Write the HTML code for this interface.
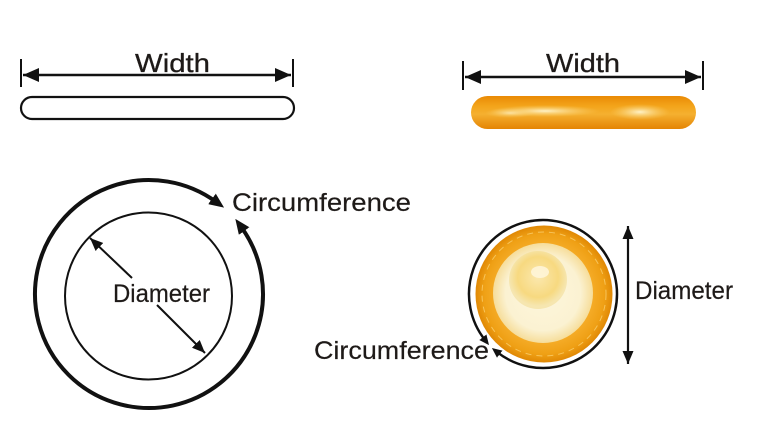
<!DOCTYPE html>
<html><head><meta charset="utf-8"><style>
html,body{margin:0;padding:0;background:#fff;}
svg{display:block;}
text{font-family:"Liberation Sans",sans-serif;fill:#1e1a18;}
</style></head><body>
<svg width="768" height="430" viewBox="0 0 768 430" xmlns="http://www.w3.org/2000/svg">
<defs>
  <marker id="hw" viewBox="0 0 16 14" refX="16" refY="7" markerWidth="16" markerHeight="14" markerUnits="userSpaceOnUse" orient="auto-start-reverse">
    <path d="M0,0 L16,7 L0,14 z" fill="#111"/>
  </marker>
  <marker id="hc" viewBox="0 0 15 13" refX="5" refY="6.5" markerWidth="15" markerHeight="13" markerUnits="userSpaceOnUse" orient="auto-start-reverse">
    <path d="M0,0 L15,6.5 L0,13 z" fill="#111"/>
  </marker>
  <marker id="hd" viewBox="0 0 13 11" refX="13" refY="5.5" markerWidth="13" markerHeight="11" markerUnits="userSpaceOnUse" orient="auto-start-reverse">
    <path d="M0,0 L13,5.5 L0,11 z" fill="#111"/>
  </marker>
  <marker id="hs" viewBox="0 0 10 9" refX="3" refY="4.5" markerWidth="10" markerHeight="9" markerUnits="userSpaceOnUse" orient="auto-start-reverse">
    <path d="M0,0 L10,4.5 L0,9 z" fill="#111"/>
  </marker>
  <linearGradient id="barg" x1="0" y1="0" x2="0" y2="1">
    <stop offset="0" stop-color="#e98a05"/>
    <stop offset="0.3" stop-color="#f3a41a"/>
    <stop offset="0.55" stop-color="#f5b030"/>
    <stop offset="1" stop-color="#e48403"/>
  </linearGradient>
  <radialGradient id="hl" cx="0.5" cy="0.5" r="0.5">
    <stop offset="0" stop-color="#fff6d0" stop-opacity="0.95"/>
    <stop offset="1" stop-color="#fbd470" stop-opacity="0"/>
  </radialGradient>
  <radialGradient id="ring" cx="0.5" cy="0.5" r="0.5">
    <stop offset="0.7" stop-color="#f5ac28"/>
    <stop offset="0.88" stop-color="#efa015"/>
    <stop offset="1" stop-color="#e08804"/>
  </radialGradient>
  <radialGradient id="cream" cx="0.5" cy="0.5" r="0.5">
    <stop offset="0" stop-color="#fdf6dc"/>
    <stop offset="0.75" stop-color="#fbf2d2"/>
    <stop offset="1" stop-color="#f6dd9a"/>
  </radialGradient>
  <radialGradient id="tip" cx="0.5" cy="0.45" r="0.5">
    <stop offset="0" stop-color="#fbe8ae"/>
    <stop offset="0.7" stop-color="#f7d980"/>
    <stop offset="1" stop-color="#f6e6b0"/>
  </radialGradient>
</defs>

<!-- Top-left width diagram -->
<line x1="21" y1="59" x2="21" y2="87" stroke="#111" stroke-width="2"/>
<line x1="293" y1="59" x2="293" y2="87" stroke="#111" stroke-width="2"/>
<line x1="23" y1="75" x2="291" y2="75" stroke="#111" stroke-width="2.5" marker-start="url(#hw)" marker-end="url(#hw)"/>
<text x="135" y="72" font-size="26" textLength="75" lengthAdjust="spacingAndGlyphs" stroke="#1e1a18" stroke-width="0.3">Width</text>
<rect x="21" y="97" width="273" height="22" rx="11" fill="#fff" stroke="#111" stroke-width="2.2"/>

<!-- Top-right width diagram -->
<line x1="463" y1="61" x2="463" y2="90" stroke="#111" stroke-width="2"/>
<line x1="703" y1="61" x2="703" y2="90" stroke="#111" stroke-width="2"/>
<line x1="465" y1="77" x2="701" y2="77" stroke="#111" stroke-width="2.5" marker-start="url(#hw)" marker-end="url(#hw)"/>
<text x="546" y="72" font-size="26" textLength="74" lengthAdjust="spacingAndGlyphs" stroke="#1e1a18" stroke-width="0.3">Width</text>
<rect x="471" y="96" width="225" height="33" rx="16.5" fill="url(#barg)"/>
<ellipse cx="545" cy="111" rx="55" ry="6" fill="url(#hl)"/>
<ellipse cx="640" cy="112" rx="30" ry="8" fill="url(#hl)"/>
<ellipse cx="510" cy="113" rx="25" ry="5" fill="url(#hl)" opacity="0.7"/>

<!-- Left circle diagram -->
<path d="M241.2,227 A114,114 0 1 1 216,201.8" fill="none" stroke="#111" stroke-width="4" marker-start="url(#hc)" marker-end="url(#hc)"/>
<circle cx="148.5" cy="296" r="83.5" fill="none" stroke="#111" stroke-width="2"/>
<line x1="132" y1="278" x2="90" y2="238" stroke="#111" stroke-width="2" marker-end="url(#hd)"/>
<line x1="157" y1="305" x2="205" y2="353" stroke="#111" stroke-width="2" marker-end="url(#hd)"/>
<text x="113" y="302" font-size="25" textLength="97" lengthAdjust="spacingAndGlyphs" stroke="#1e1a18" stroke-width="0.2">Diameter</text>
<text x="232" y="211" font-size="25" textLength="179" lengthAdjust="spacingAndGlyphs" stroke="#1e1a18" stroke-width="0.2">Circumference</text>

<!-- Right condom diagram -->
<circle cx="544" cy="294" r="68.5" fill="url(#ring)"/>
<circle cx="543" cy="293" r="50" fill="url(#cream)"/>
<circle cx="538" cy="280" r="29" fill="url(#tip)"/>
<ellipse cx="540" cy="272" rx="9" ry="6" fill="#fff8e0" opacity="0.8"/>
<circle cx="544" cy="294" r="62" fill="none" stroke="#ffe08a" stroke-width="1" stroke-dasharray="6 5" opacity="0.6"/>
<path d="M497.4,352.3 A74,74 0 1 0 484.7,339.6" fill="none" stroke="#111" stroke-width="2.5" marker-start="url(#hs)" marker-end="url(#hs)"/>
<line x1="628" y1="226" x2="628" y2="364" stroke="#111" stroke-width="2.2" marker-start="url(#hd)" marker-end="url(#hd)"/>
<text x="635" y="299" font-size="25" textLength="98" lengthAdjust="spacingAndGlyphs" stroke="#1e1a18" stroke-width="0.2">Diameter</text>
<text x="314" y="359" font-size="25" textLength="175" lengthAdjust="spacingAndGlyphs" stroke="#1e1a18" stroke-width="0.2">Circumference</text>
</svg>
</body></html>
